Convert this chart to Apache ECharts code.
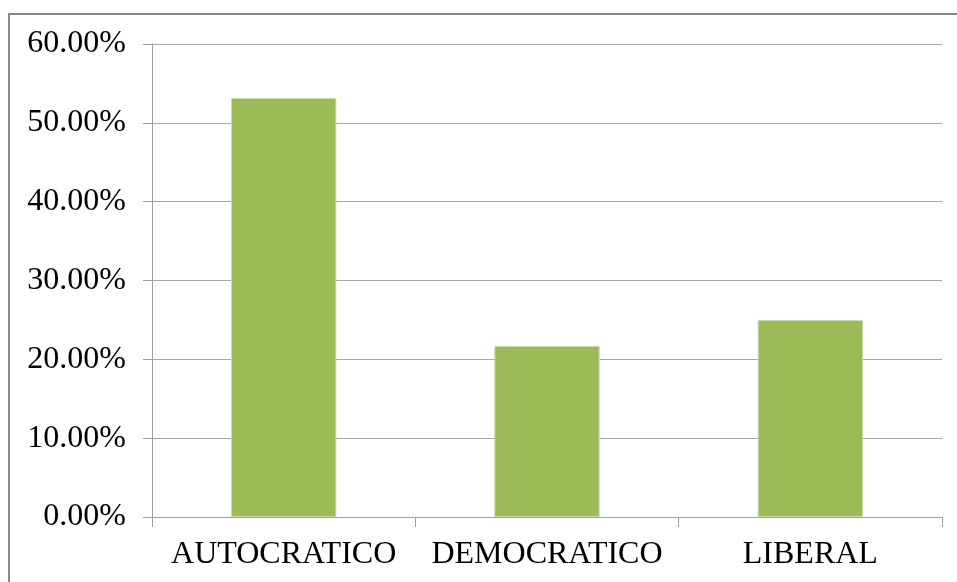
<!DOCTYPE html>
<html>
<head>
<meta charset="utf-8">
<script src="https://cdn.jsdelivr.net/npm/echarts@6/dist/echarts.min.js"></script>
<style>
  html, body { margin: 0; padding: 0; background: #ffffff; }
  #chart { width: 957px; height: 582px; }
</style>
</head>
<body>
<div id="chart"></div>
<script>
// Leadership style shares
const categories = ['AUTOCRATICO', 'DEMOCRATICO', 'LIBERAL'];
const shares = [53.15, 21.7, 25.0];

const FONT = '"Liberation Serif", "Times New Roman", serif';

const chart = echarts.init(document.getElementById('chart'), null, { renderer: 'canvas' });

chart.setOption({
  backgroundColor: '#ffffff',
  animation: false,
  graphic: [
    // frame around the chart (top and left edges)
    { type: 'line', shape: { x1: 9, y1: 14, x2: 957, y2: 14 }, style: { stroke: '#8a8a8a', lineWidth: 2 } },
    { type: 'line', shape: { x1: 9, y1: 13, x2: 9, y2: 582 }, style: { stroke: '#8a8a8a', lineWidth: 2 } }
  ],
  grid: { left: 152, right: 15, top: 44, bottom: 65, containLabel: false },
  xAxis: {
    type: 'category',
    data: categories,
    boundaryGap: true,
    axisLine: { lineStyle: { color: '#a0a0a0', width: 1 } },
    axisTick: { show: true, interval: 0, alignWithLabel: false, length: 10, lineStyle: { color: '#a0a0a0' } },
    axisLabel: { interval: 0, hideOverlap: false, color: '#000000', fontFamily: FONT, fontSize: 32, margin: 22 },
    splitLine: { show: false }
  },
  yAxis: {
    type: 'value',
    min: 0,
    max: 60,
    interval: 10,
    axisLine: { show: true, lineStyle: { color: '#a0a0a0', width: 1 } },
    axisTick: { show: true, length: 9, lineStyle: { color: '#a0a0a0' } },
    axisLabel: {
      color: '#000000', fontFamily: FONT, fontSize: 32, margin: 26,
      formatter: v => v.toFixed(2) + '%'
    },
    splitLine: { show: true, lineStyle: { color: '#a6a6a6', width: 1 } }
  },
  series: [{
    type: 'bar',
    data: shares,
    barCategoryGap: '60%',
    itemStyle: { color: '#9bbb59', borderColor: '#c9dba6', borderWidth: 1 }
  }]
});
</script>
</body>
</html>
